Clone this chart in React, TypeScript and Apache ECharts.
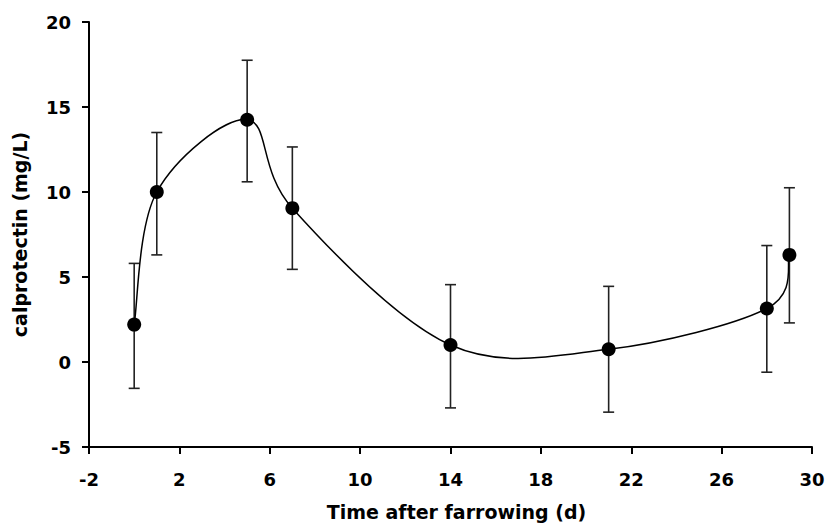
import React, { useEffect, useRef } from "react";
import * as echarts from "echarts";

const days = [0, 1, 5, 7, 14, 21, 28, 29];
const meanValues = [2.2, 10.0, 14.25, 9.05, 1.0, 0.75, 3.15, 6.3];
const upperValues = [5.8, 13.5, 17.75, 12.65, 4.55, 4.45, 6.85, 10.25];
const lowerValues = [-1.55, 6.3, 10.6, 5.45, -2.7, -2.95, -0.6, 2.3];
const xTicks = [-2, 2, 6, 10, 14, 18, 22, 26, 30];

const FONT = "DejaVu Sans";

export default function App() {
  const ref = useRef<HTMLDivElement>(null);
  useEffect(() => {
    if (!ref.current) return;
    const chart = echarts.init(ref.current, undefined, { renderer: "svg" });
    const points = days.map((d, i) => [d, meanValues[i]]);
    const bars = days.map((d, i) => [d, lowerValues[i], upperValues[i]]);

    const curveRender = (params: any, api: any) => {
      const i = params.dataIndex;
      const n = points.length;
      if (i >= n - 1) return null;
      const px = points.map((p) => api.coord(p));
      const p0 = px[Math.max(i - 1, 0)];
      const p1 = px[i];
      const p2 = px[i + 1];
      const p3 = px[Math.min(i + 2, n - 1)];
      return {
        type: "bezierCurve",
        shape: {
          x1: p1[0],
          y1: p1[1],
          x2: p2[0],
          y2: p2[1],
          cpx1: p1[0] + (p2[0] - p0[0]) / 6,
          cpy1: p1[1] + (p2[1] - p0[1]) / 6,
          cpx2: p2[0] - (p3[0] - p1[0]) / 6,
          cpy2: p2[1] - (p3[1] - p1[1]) / 6,
        },
        style: { stroke: "#000", lineWidth: 1.5, fill: null },
      };
    };

    const errRender = (params: any, api: any) => {
      const x = api.value(0);
      const lo = api.coord([x, api.value(1)]);
      const hi = api.coord([x, api.value(2)]);
      const hw = 5.5;
      const st = { stroke: "#222", lineWidth: 1.6 };
      return {
        type: "group",
        children: [
          { type: "line", shape: { x1: lo[0], y1: lo[1], x2: hi[0], y2: hi[1] }, style: st },
          { type: "line", shape: { x1: lo[0] - hw, y1: lo[1], x2: lo[0] + hw, y2: lo[1] }, style: st },
          { type: "line", shape: { x1: hi[0] - hw, y1: hi[1], x2: hi[0] + hw, y2: hi[1] }, style: st },
        ],
      };
    };

    chart.setOption({
      animation: false,
      backgroundColor: "#fff",
      grid: {
        left: 89,
        right: 14,
        top: 22,
        bottom: 78,
        containLabel: false,
        outerBoundsMode: "none",
      },
      xAxis: {
        type: "value",
        min: -2,
        max: 30,
        interval: 4,
        name: "Time after farrowing (d)",
        nameLocation: "middle",
        nameGap: 55,
        nameTextStyle: {
          fontFamily: FONT,
          fontWeight: "bold",
          fontSize: 19,
          color: "#000",
          padding: [0, 0, 0, 12],
        },
        splitLine: { show: false },
        axisLine: { show: true, onZero: false, lineStyle: { color: "#000", width: 2 } },
        axisTick: { show: true, length: 7, lineStyle: { color: "#000", width: 2 }, customValues: xTicks },
        axisLabel: {
          customValues: xTicks,
          margin: 23,
          fontFamily: FONT,
          fontWeight: "bold",
          fontSize: 18,
          color: "#000",
        },
      },
      yAxis: {
        type: "value",
        min: -5,
        max: 20,
        interval: 5,
        name: "calprotectin (mg/L)",
        nameLocation: "middle",
        nameRotate: 90,
        nameGap: 60,
        nameTextStyle: {
          fontFamily: FONT,
          fontWeight: "bold",
          fontSize: 19,
          color: "#000",
        },
        splitLine: { show: false },
        axisLine: { show: true, onZero: false, lineStyle: { color: "#000", width: 2 } },
        axisTick: { show: true, length: 7, lineStyle: { color: "#000", width: 2 } },
        axisLabel: {
          margin: 18,
          fontFamily: FONT,
          fontWeight: "bold",
          fontSize: 18,
          color: "#000",
        },
      },
      series: [
        {
          type: "custom",
          name: "error",
          data: bars,
          encode: { x: 0, y: [1, 2] },
          renderItem: errRender,
          z: 1,
          silent: true,
        },
        {
          type: "custom",
          name: "curve",
          data: points,
          encode: { x: 0, y: 1 },
          renderItem: curveRender,
          z: 2,
          silent: true,
        },
        {
          type: "scatter",
          name: "mean",
          data: points,
          symbol: "circle",
          symbolSize: 14,
          itemStyle: { color: "#000", opacity: 1 },
          z: 3,
          silent: true,
        },
      ],
    });
    return () => chart.dispose();
  }, []);
  return (
    <div
      ref={ref}
      style={{ position: "fixed", left: 0, top: 0, width: 826, height: 525, background: "#fff" }}
    />
  );
}
